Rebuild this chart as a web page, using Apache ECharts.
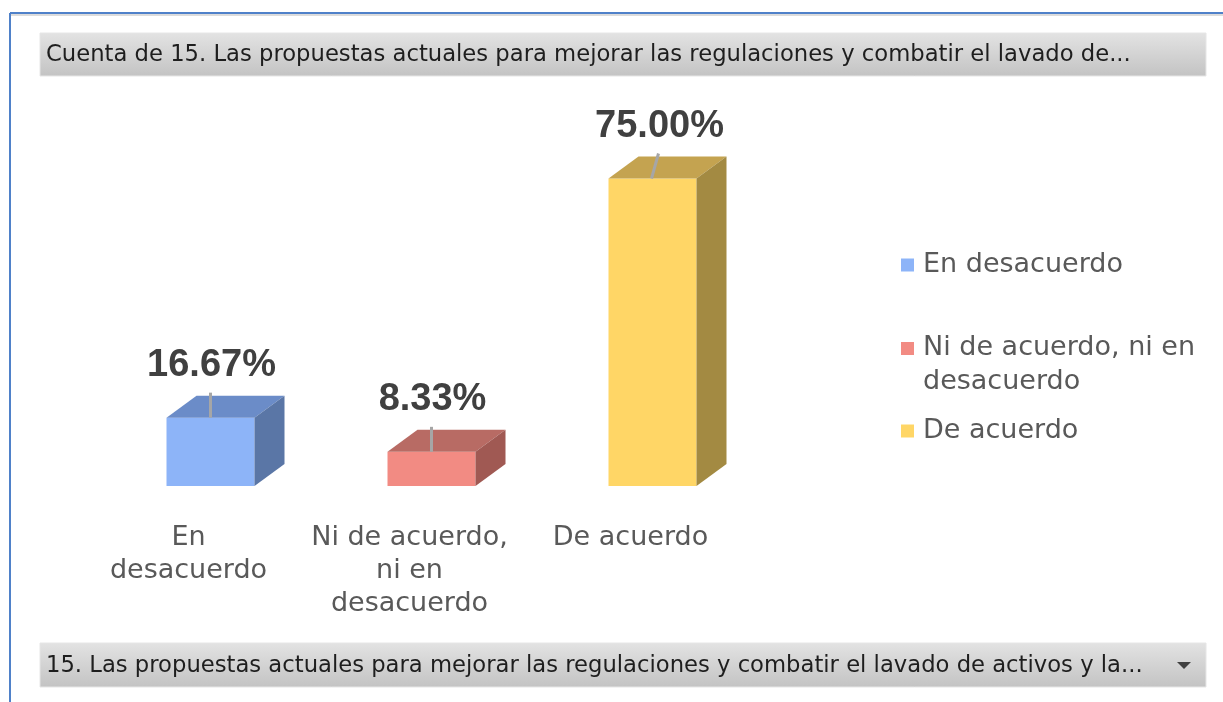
<!DOCTYPE html>
<html>
<head>
<meta charset="utf-8">
<title>Cuenta de 15</title>
<script src="https://cdn.jsdelivr.net/npm/echarts@6/dist/echarts.min.js"></script>
<style>
  html, body { margin: 0; padding: 0; background: #fff; }
  #chart { width: 1223px; height: 702px; }
</style>
</head>
<body>
<div id="chart"></div>
<script>
// datos
var categorias = ['En desacuerdo', 'Ni de acuerdo, ni en desacuerdo', 'De acuerdo'];
var etiquetasEje = ['En\ndesacuerdo', 'Ni de acuerdo,\nni en\ndesacuerdo', 'De acuerdo'];
var etiquetasLeyenda = ['En desacuerdo', 'Ni de acuerdo, ni en\ndesacuerdo', 'De acuerdo'];
var porcentajes = [16.67, 8.33, 75.00];

var tituloArriba = 'Cuenta de 15. Las propuestas actuales para mejorar las regulaciones y combatir el lavado de...';
var tituloAbajo = '15. Las propuestas actuales para mejorar las regulaciones y combatir el lavado de activos y la...';

// colores: frente, tapa, lado
var colores = [
    ['#8db4f8', '#6b8cc8', '#5a76a6'],
    ['#f28b83', '#b86b64', '#a05953'],
    ['#ffd666', '#c4a350', '#a38a42']
];

var myChart = echarts.init(document.getElementById('chart'));

function cubo(params, api){
    var idx = api.value(0);
    var val = api.value(1);
    var base = api.coord([idx, 0]);
    var tope = api.coord([idx, val]);
    var ancho = 88, dx = 30, dy = 22;
    var cx = base[0];
    var fl = cx - ancho / 2, fr = cx + ancho / 2;
    var yb = base[1], yt = tope[1];
    var c = colores[idx];
    // la barra alta tiene la guia inclinada como en excel
    var inclina = idx == 2 ? 6 : 0;
    return {
        type: 'group',
        children: [
            { type: 'rect', shape: { x: fl, y: yt, width: ancho, height: yb - yt }, style: { fill: c[0] } },
            { type: 'polygon', shape: { points: [[fl, yt], [fl + dx, yt - dy], [fr + dx, yt - dy], [fr, yt]] }, style: { fill: c[1] } },
            { type: 'polygon', shape: { points: [[fr, yt], [fr + dx, yt - dy], [fr + dx, yb - dy], [fr, yb]] }, style: { fill: c[2] } },
            { type: 'line', shape: { x1: cx + inclina, y1: yt - 25, x2: cx - (inclina ? 1 : 0), y2: yt }, style: { stroke: '#a6a6a6', lineWidth: 3 } },
            { type: 'text', x: cx + 1 + inclina, y: yt - 52, style: {
                text: val.toFixed(2) + '%', align: 'center', verticalAlign: 'middle',
                font: 'bold 38px "Liberation Sans", Arial, sans-serif', fill: '#404040'
            } }
        ]
    };
}

var series = [];
for (var i = 0; i < categorias.length; i++) {
    series.push({
        name: categorias[i],
        type: 'custom',
        itemStyle: { color: colores[i][0] },
        renderItem: cubo,
        encode: { x: 0, y: 1 },
        data: [[i, porcentajes[i]]],
        silent: true
    });
}

function leyenda(i, top, dosLineas){
    return {
        data: [categorias[i]],
        left: 896,
        top: top,
        orient: 'vertical',
        // cuadro pegado a la primera linea del texto
        icon: dosLineas ? 'path://M0,0H13V13H0Z M0,45.9H0.1V46H0Z' : 'rect',
        itemWidth: 13,
        itemHeight: dosLineas ? 46 : 13,
        itemGap: 0,
        selectedMode: false,
        formatter: function(){ return etiquetasLeyenda[i]; },
        textStyle: { fontFamily: 'DejaVu Sans', fontSize: 27, color: '#595959', lineHeight: 34, padding: [0, 0, 0, 4] }
    };
}

var fondoBarra = {
    type: 'linear', x: 0, y: 0, x2: 0, y2: 1,
    colorStops: [{ offset: 0, color: '#e3e3e3' }, { offset: 1, color: '#c3c3c3' }]
};

option = {
    backgroundColor: '#ffffff',
    animation: false,
    grid: { left: 100, width: 663, top: 76, bottom: 216, containLabel: false },
    xAxis: {
        type: 'category',
        data: etiquetasEje,
        axisLine: { show: false },
        axisTick: { show: false },
        axisLabel: {
            interval: 0, margin: 35, color: '#595959', fontSize: 27, lineHeight: 33,
            fontFamily: 'DejaVu Sans', padding: [0, 44, 0, 0]
        }
    },
    yAxis: { type: 'value', min: 0, max: 100, show: false },
    legend: [leyenda(0, 243, false), leyenda(1, 326, true), leyenda(2, 409, false)],
    series: series,
    graphic: [
        { type: 'line', shape: { x1: 10, y1: 15, x2: 1223, y2: 15 }, style: { stroke: '#dcdcdc', lineWidth: 2 } },
        { type: 'line', shape: { x1: 10, y1: 13, x2: 1223, y2: 13 }, style: { stroke: '#4f81c9', lineWidth: 2 } },
        { type: 'line', shape: { x1: 10, y1: 13, x2: 10, y2: 702 }, style: { stroke: '#4f81c9', lineWidth: 2 } },
        { type: 'rect', shape: { x: 40, y: 33, width: 1166, height: 43 }, style: { fill: fondoBarra, stroke: '#e6e6e6', lineWidth: 1 } },
        { type: 'text', x: 46, y: 55, style: { text: tituloArriba, font: '22.7px "DejaVu Sans"', fill: '#1e1e1e', verticalAlign: 'middle' } },
        { type: 'rect', shape: { x: 40, y: 643, width: 1166, height: 44 }, style: { fill: fondoBarra, stroke: '#e6e6e6', lineWidth: 1 } },
        { type: 'text', x: 46, y: 666, style: { text: tituloAbajo, font: '22.7px "DejaVu Sans"', fill: '#1e1e1e', verticalAlign: 'middle' } },
        { type: 'polygon', shape: { points: [[1177, 662], [1191, 662], [1184, 669]] }, style: { fill: '#404040' } }
    ]
};

myChart.setOption(option);
</script>
</body>
</html>
